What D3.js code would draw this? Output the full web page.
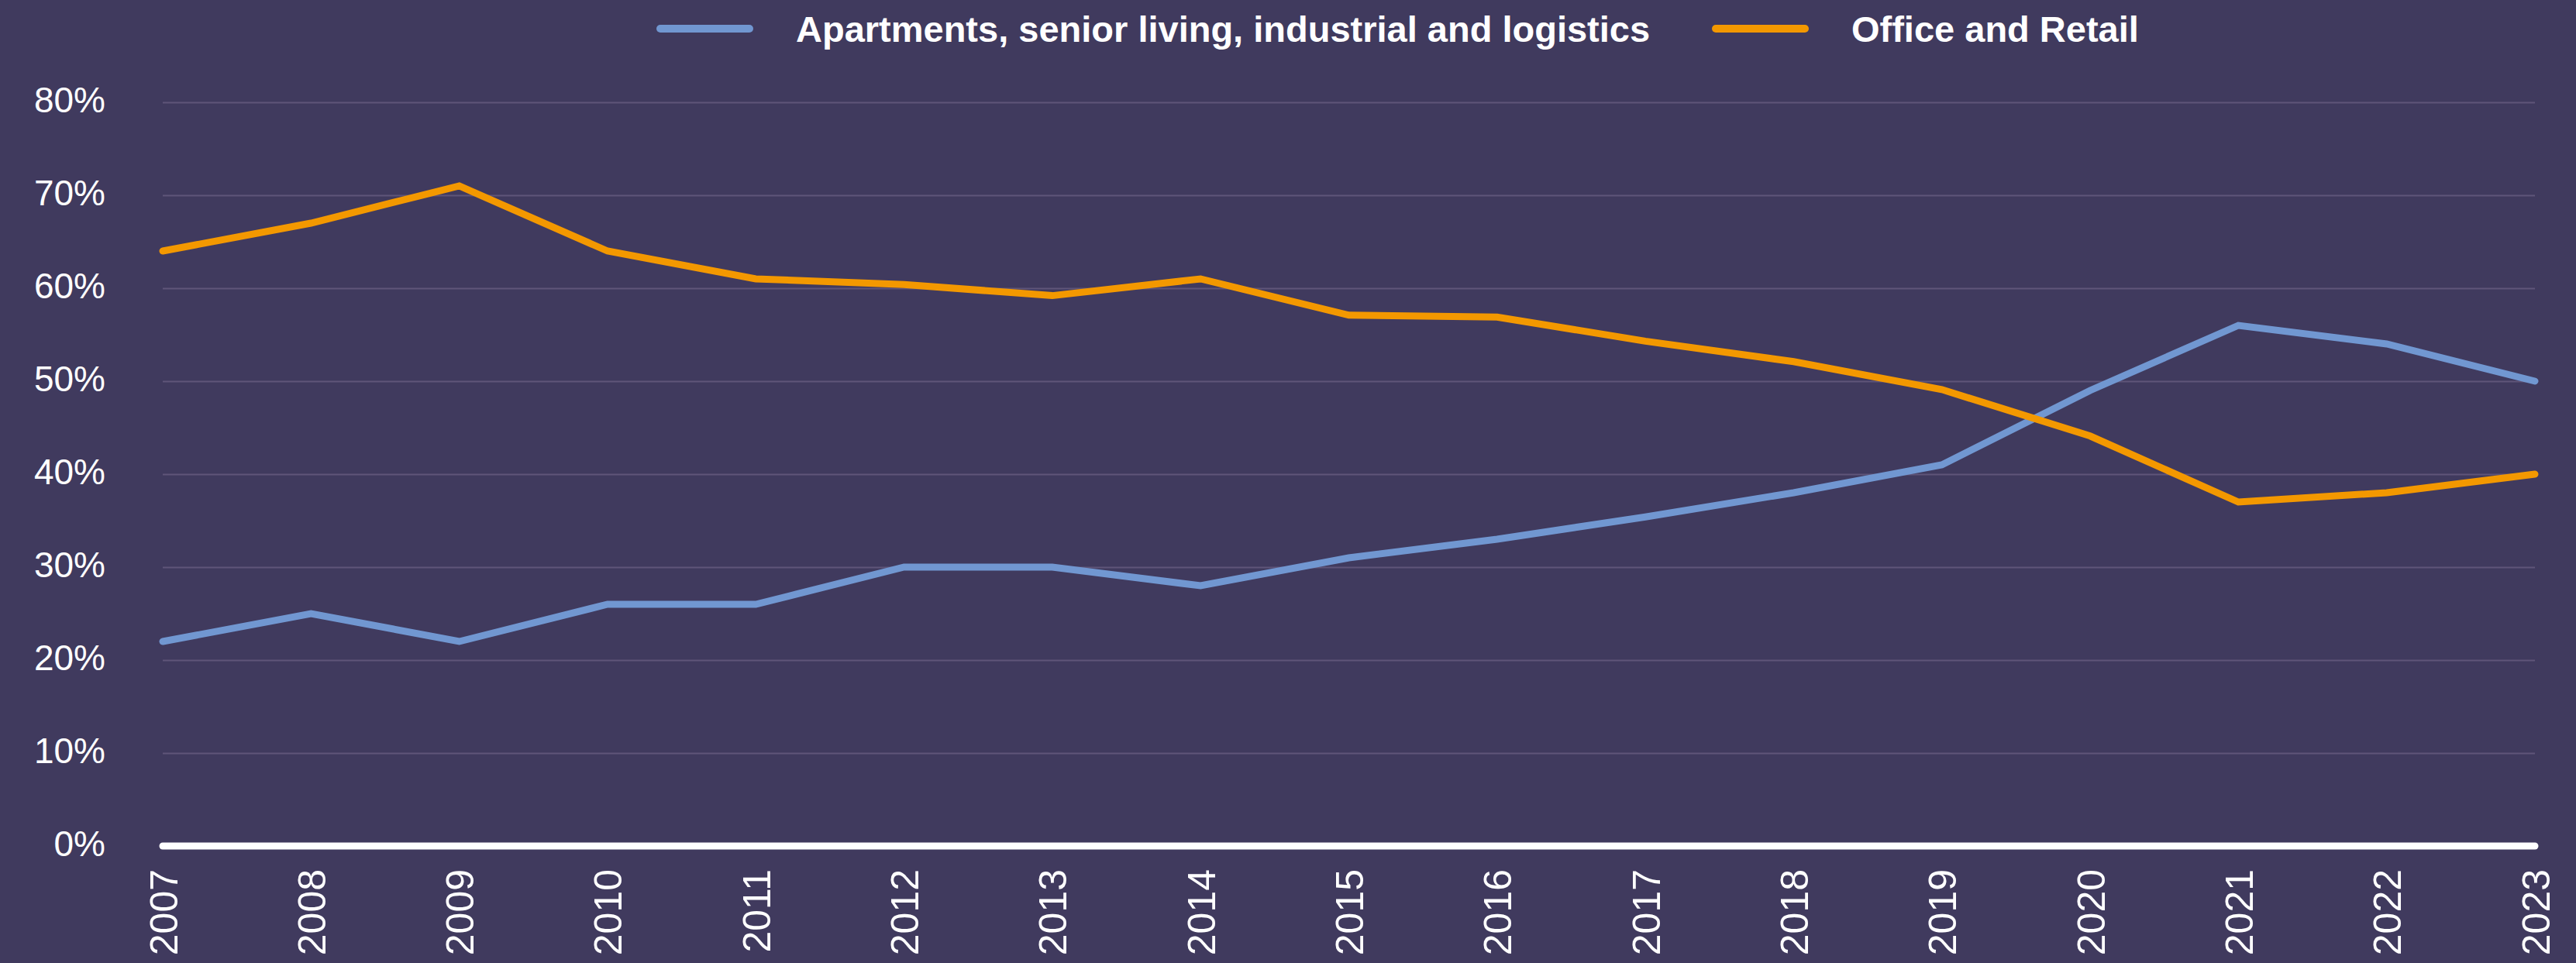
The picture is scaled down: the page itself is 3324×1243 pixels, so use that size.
<!DOCTYPE html>
<html>
<head>
<meta charset="utf-8">
<script src="https://cdn.jsdelivr.net/npm/d3@7"></script>
<style>
  html, body { margin: 0; padding: 0; background: #403a5e; }
  svg { display: block; }
</style>
</head>
<body>
<div id="chart"></div>
<script>
const years = [2007, 2008, 2009, 2010, 2011, 2012, 2013, 2014, 2015, 2016, 2017, 2018, 2019, 2020, 2021, 2022, 2023]
const apartmentsIndustrial = [22, 25, 22, 26, 26, 30, 30, 28, 31, 33, 35.4, 38, 41, 49, 56, 54, 50]
const officeRetail = [64, 67, 71, 64, 61, 60.4, 59.2, 61, 57.1, 56.9, 54.3, 52.1, 49.1, 44.1, 37, 38, 40]
const yTicks = [0, 10, 20, 30, 40, 50, 60, 70, 80]
const seriesNames = ['Apartments, senior living, industrial and logistics', 'Office and Retail']
const seriesColors = ['#7197d1', '#f39800']

const width = 3324
const height = 1243
const margin = { top: 132, right: 53, bottom: 151, left: 210 }

const svg = d3.select('#chart').append('svg')
  .attr('width', width)
  .attr('height', height)

svg.append('rect')
  .attr('width', width)
  .attr('height', height)
  .attr('fill', '#403a5e')

const x = d3.scaleLinear()
  .domain(d3.extent(years))
  .range([margin.left, width - margin.right])

const y = d3.scaleLinear()
  .domain([0, 80])
  .range([height - margin.bottom, margin.top])

// gridlines + y labels
const yAxis = svg.append('g')
  .attr('transform', `translate(${margin.left},0)`)
  .call(d3.axisLeft(y)
    .tickValues(yTicks)
    .tickSize(-(width - margin.left - margin.right))
    .tickPadding(74)
    .tickFormat(d => d + '%'))

yAxis.select('.domain').remove()
yAxis.selectAll('.tick line')
  .attr('stroke', '#5f5579')
  .attr('stroke-width', 2)
yAxis.selectAll('.tick text')
  .attr('fill', '#ffffff')
  .attr('font-family', 'Liberation Sans, Arial, sans-serif')
  .attr('font-size', 46)
  .attr('dy', '0.28em')

// x labels, rotated
const xAxis = svg.append('g')
  .attr('transform', `translate(0,${y(0)})`)
  .call(d3.axisBottom(x)
    .tickValues(years)
    .tickSize(0)
    .tickFormat(d3.format('d')))

xAxis.select('.domain').remove()
xAxis.selectAll('.tick text')
  .attr('fill', '#ffffff')
  .attr('font-family', 'Liberation Sans, Arial, sans-serif')
  .attr('font-size', 50)
  .attr('text-anchor', 'end')
  .attr('transform', 'rotate(-90)')
  .attr('x', -30)
  .attr('y', 0)
  .attr('dy', '0.36em')

// zero line
svg.append('line')
  .attr('x1', x(years[0]))
  .attr('x2', x(years[years.length - 1]))
  .attr('y1', y(0))
  .attr('y2', y(0))
  .attr('stroke', '#ffffff')
  .attr('stroke-width', 9)
  .attr('stroke-linecap', 'round')

const line = d3.line()
  .x((d, i) => x(years[i]))
  .y(d => y(d))

const allSeries = [apartmentsIndustrial, officeRetail]

svg.selectAll('.series')
  .data(allSeries)
  .enter()
  .append('path')
  .attr('class', 'series')
  .attr('d', line)
  .attr('fill', 'none')
  .attr('stroke', (d, i) => seriesColors[i])
  .attr('stroke-width', 9)
  .attr('stroke-linejoin', 'miter')
  .attr('stroke-linecap', 'round')

// legend
const legendX = [847, 2209]
const legend = svg.selectAll('.legend')
  .data(seriesNames)
  .enter()
  .append('g')
  .attr('class', 'legend')
  .attr('transform', (d, i) => `translate(${legendX[i]},37)`)

legend.append('line')
  .attr('x1', 5)
  .attr('x2', 120)
  .attr('stroke', (d, i) => seriesColors[i])
  .attr('stroke-width', 10)
  .attr('stroke-linecap', 'round')

legend.append('text')
  .attr('x', 180)
  .attr('y', 17)
  .attr('fill', '#ffffff')
  .attr('font-family', 'Liberation Sans, Arial, sans-serif')
  .attr('font-weight', 'bold')
  .attr('font-size', 47)
  .text(d => d)
</script>
</body>
</html>
